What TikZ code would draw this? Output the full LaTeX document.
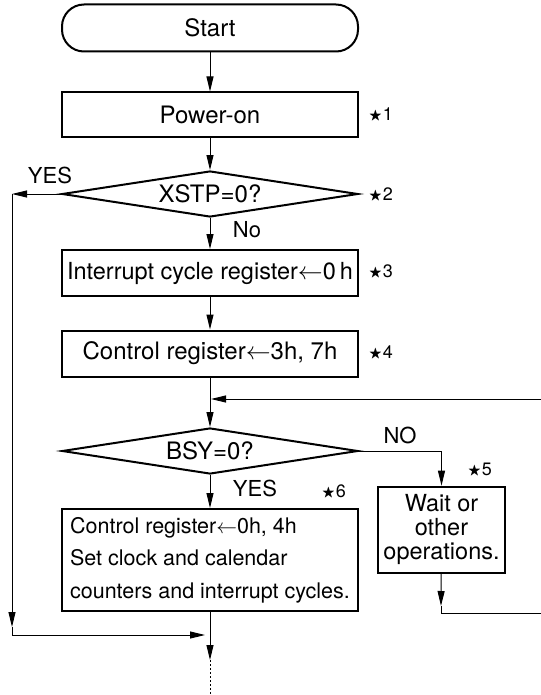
\documentclass[tikz,border=0pt]{standalone}
\usepackage{amssymb}
\usepackage{fontspec}
\setmainfont{TeX Gyre Heros}
\usetikzlibrary{shapes.geometric,arrows.meta}

\begin{document}
\begin{tikzpicture}[x=1pt,y=-1pt]
    \tikzset{box/.style = {shape=rectangle,draw,line width=2pt,minimum width=296pt,font=\fontsize{24}{28}\selectfont},
             term/.style = {box,rounded corners=22pt,minimum height=47pt},
             test/.style = {shape=diamond,draw,line width=2pt,minimum width=296pt,minimum height=46pt,inner sep=0pt,aspect=6,font=\fontsize{24}{28}\selectfont},
             flow/.style = {line width=1pt,-{Triangle[length=15pt,width=7pt]}},
             lbl/.style = {font=\fontsize{22}{26}\selectfont},
             note/.style = {font=\fontsize{18}{20}\selectfont}}
    \newcommand{\mystar}{\raisebox{1pt}{\fontsize{13.5}{14}\selectfont$\bigstar$}}
    \useasboundingbox (0,0) rectangle (540,695);

    % Main column
    \node[term] (start) at (210,28) {Start};
    \node[box,minimum height=45pt] (power) at (210,115) {Power-on};
    \node[test] (xstp) at (210,194) {XSTP=0?};
    \node[box,minimum height=46pt,font=\fontsize{23.5}{28}\selectfont] (intr) at (210,273) {Interrupt cycle register$\leftarrow$0\,h};
    \node[box,minimum height=46pt] (ctrl) at (210,353.5) {Control register$\leftarrow$3h, 7h};
    \node[test] (bsy) at (210,451) {BSY=0?};
    \node[box,minimum height=102pt,align=left,font=\fontsize{21.5}{32.5}\selectfont] (set) at (210,560)
        {Control register$\leftarrow$0h, 4h\\Set clock and calendar\\counters and interrupt cycles.};

    % Side branch
    \node[box,minimum width=127pt,minimum height=86pt,inner sep=1pt,align=center,font=\fontsize{23.5}{24}\selectfont] (wait) at (441.5,529.7)
        {Wait or\\other\\operations.};

    % Notes
    \foreach \pos/\name in {{(381,115)/1}, {(381,195)/2}, {(381,272)/3}, {(381,353)/4}, {(480,470)/5}, {(334,492)/6}}
        \node[note] (n\name) at \pos {\mystar\kern1pt\name};

    % Branch labels
    \node[lbl] (yes1) at (50,175) {YES};
    \node[lbl] (no1) at (247,230) {No};
    \node[lbl] (no2) at (400,435) {NO};
    \node[lbl] (yes2) at (255,488) {YES};

    % Corner points
    \coordinate (lt) at (12,194);
    \coordinate (lb) at (12,635);
    \coordinate (mj) at (210,635);
    \coordinate (jn) at (210,399);
    \coordinate (wb) at (441,613);
    \coordinate (rb) at (560,613);
    \coordinate (rt) at (560,399);
    \coordinate (tail) at (210,660);
    \coordinate (bot) at (210,695);

    % Connectors
    \foreach \source/\target in {start/power, power/xstp, xstp/intr, intr/ctrl, ctrl/bsy, bsy/set}
        \draw[flow] (\source) -- (\target);
    \draw[flow] (bsy) -| (wait);
    \draw[flow] (xstp) -- (lt);
    \draw[flow] (lt) -- ([yshift=8pt]lb);
    \draw[flow] ([yshift=8pt]lb) -- (lb) -- ([xshift=-5pt]mj);
    \draw[flow] (set) -- (tail);
    \draw[line width=1pt,dash pattern=on 1.5pt off 2.5pt] (tail) -- (bot);
    \draw[flow] (wait) -- ([yshift=7pt]wb);
    \draw[flow] ([yshift=7pt]wb) -- (wb) -- (rb) -- (rt) -- ([xshift=1pt]jn);
\end{tikzpicture}
\end{document}
